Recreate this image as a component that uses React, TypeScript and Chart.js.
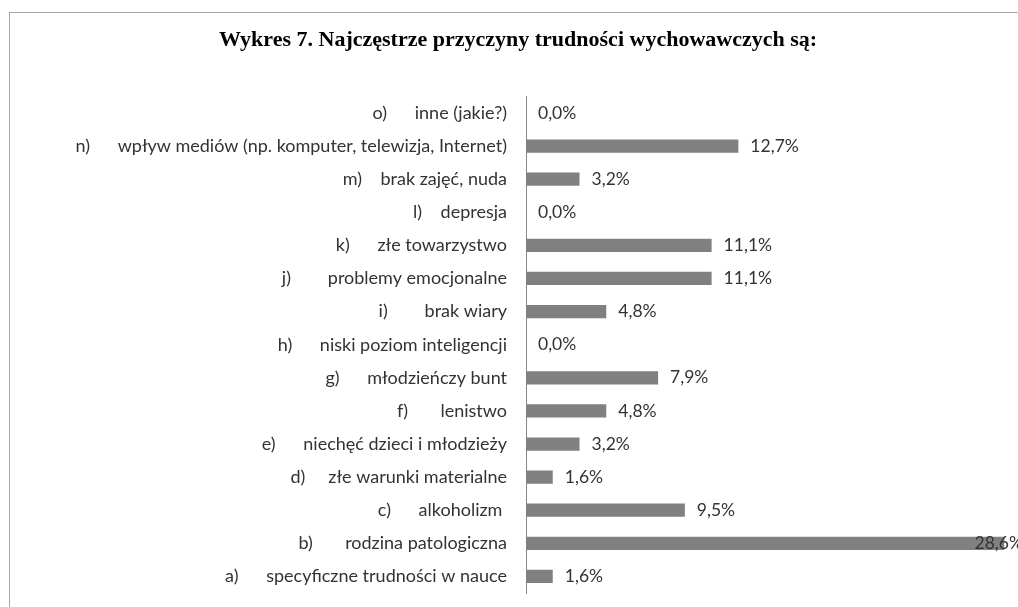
import React, { useEffect, useRef } from "react";
import { Chart, registerables } from "chart.js";

Chart.register(...registerables);

const titleText = "Wykres 7. Najczęstrze przyczyny trudności wychowawczych są:";

const categories: string[] = [
  "a)      specyficzne trudności w nauce",
  "b)       rodzina patologiczna",
  "c)      alkoholizm ",
  "d)     złe warunki materialne",
  "e)      niechęć dzieci i młodzieży",
  "f)       lenistwo",
  "g)      młodzieńczy bunt",
  "h)      niski poziom inteligencji",
  "i)        brak wiary",
  "j)        problemy emocjonalne",
  "k)      złe towarzystwo",
  "l)    depresja",
  "m)    brak zajęć, nuda",
  "n)      wpływ mediów (np. komputer, telewizja, Internet)",
  "o)      inne (jakie?)",
];

const values: number[] = [1.6, 28.6, 9.5, 1.6, 3.2, 4.8, 7.9, 0.0, 4.8, 11.1, 11.1, 0.0, 3.2, 12.7, 0.0];

const LABEL_FONT = "Lato";

const dataLabels = {
  id: "dataLabels",
  afterDatasetsDraw(chart: any) {
    const ctx = chart.ctx;
    const meta = chart.getDatasetMeta(0);
    ctx.save();
    ctx.font = `17.5px ${LABEL_FONT}`;
    ctx.fillStyle = "#333333";
    ctx.textBaseline = "middle";
    ctx.textAlign = "left";
    meta.data.forEach((bar: any, i: number) => {
      const txt = values[i].toFixed(1).replace(".", ",") + "%";
      const w = ctx.measureText(txt).width;
      let x = bar.x + 12;
      if (x + w > chart.chartArea.right) x = chart.chartArea.right - w - 13;
      ctx.fillText(txt, x, bar.y);
    });
    ctx.restore();
  },
};

export default function App() {
  const ref = useRef<HTMLCanvasElement>(null);
  useEffect(() => {
    const chart = new Chart(ref.current as HTMLCanvasElement, {
      type: "bar",
      data: {
        labels: categories,
        datasets: [
          {
            data: values,
            backgroundColor: "#808080",
            borderWidth: 0,
            barPercentage: 0.4,
            categoryPercentage: 1,
          },
        ],
      },
      options: {
        indexAxis: "y",
        responsive: false,
        animation: false,
        layout: { padding: { top: 0, bottom: 14, left: 0, right: 0 } },
        plugins: {
          legend: { display: false },
          tooltip: { enabled: false },
          title: {
            display: true,
            text: titleText,
            color: "#000000",
            font: { family: "Liberation Serif", size: 22, weight: "bold" },
            padding: { top: 27, bottom: 43 },
          },
        },
        scales: {
          x: {
            display: false,
            min: 0,
            max: 30.5,
          },
          y: {
            reverse: true,
            grid: { display: false, drawTicks: false },
            border: { display: true, color: "#868686", width: 1 },
            ticks: {
              color: "#333333",
              font: { family: LABEL_FONT, size: 18 },
              padding: 19,
              autoSkip: false,
            },
            afterFit: (s: any) => {
              s.width = 526;
              s.paddingTop = 0;
              s.paddingBottom = 0;
            },
          },
        },
      },
      plugins: [dataLabels],
    });
    return () => chart.destroy();
  }, []);

  return (
    <div
      style={{
        position: "fixed",
        left: 0,
        top: 0,
        width: 1018,
        height: 607,
        overflow: "hidden",
        background: "#ffffff",
      }}
    >
      <div
        style={{
          position: "absolute",
          left: 9,
          top: 12,
          width: 1040,
          height: 640,
          border: "1px solid #a6a6a6",
          boxSizing: "border-box",
        }}
      />
      <canvas
        ref={ref}
        width={1036}
        height={607}
        style={{ position: "absolute", left: 0, top: 0, display: "block" }}
      />
    </div>
  );
}
